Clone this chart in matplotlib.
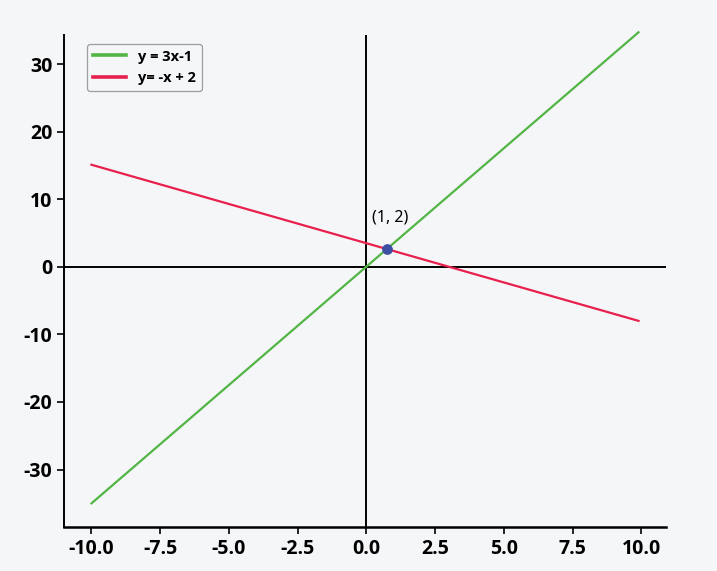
import matplotlib
matplotlib.use("Agg")
import matplotlib.pyplot as plt

# data (line endpoints)
x_vals = [-10.0, 9.9]
green_vals = [-35.0, 34.7]
red_vals = [15.1, -8.0]
point_x = [0.75]
point_y = [2.63]
point_label = "(1, 2)"
label_green = "y = 3x-1"
label_red = "y= -x + 2"
xticks = [-10.0, -7.5, -5.0, -2.5, 0.0, 2.5, 5.0, 7.5, 10.0]
yticks = [-30, -20, -10, 0, 10, 20, 30]

bg = "#f5f6f8"
plt.rcParams['font.family'] = ['Open Sans', 'DejaVu Sans']
plt.rcParams['axes.unicode_minus'] = False

fig = plt.figure(figsize=(7.17, 5.71), dpi=100, facecolor=bg)
ax = fig.add_axes([64/717, 1-527/571, (666-64)/717, (527-35)/571], facecolor=bg)

ax.plot(x_vals, green_vals, color="#52b545", lw=1.6, label=label_green, clip_on=False, zorder=3)
ax.plot(x_vals, red_vals, color="#e8204e", lw=1.6, label=label_red, zorder=3)
ax.axhline(0, color="black", lw=1.4, zorder=2)
ax.axvline(0, color="black", lw=1.4, zorder=2)
ax.scatter(point_x, point_y, s=45, color="#3d4fa3", zorder=4)
ax.text(point_x[0] + 0.1, point_y[0] + 4.6, point_label, ha="center", va="center", fontsize=11.5,
        family=['Noto Sans', 'DejaVu Sans'])

ax.set_xlim(-11.0, 10.9)
ax.set_ylim(-38.5, 34.3)
ax.set_xticks(xticks, [f"{t:.1f}" for t in xticks], fontweight="bold", fontsize=14)
ax.set_yticks(yticks, [str(t) for t in yticks], fontweight="bold", fontsize=14)
for s in ["top", "right"]:
    ax.spines[s].set_visible(False)
ax.spines["left"].set_linewidth(1.4)
ax.spines["bottom"].set_linewidth(1.8)
ax.tick_params(direction="out", length=5, width=1.2)

leg = ax.legend(loc="upper left", bbox_to_anchor=(0.026, 0.997), prop={'weight': 'bold', 'size': 10.5},
                frameon=True, fancybox=True, facecolor=bg, edgecolor="#888888", handlelength=2.3)
leg.get_frame().set_linewidth(0.9)
for h in leg.legend_handles:
    h.set_linewidth(2.6)

fig.savefig("out.png", dpi=100, facecolor=bg)
